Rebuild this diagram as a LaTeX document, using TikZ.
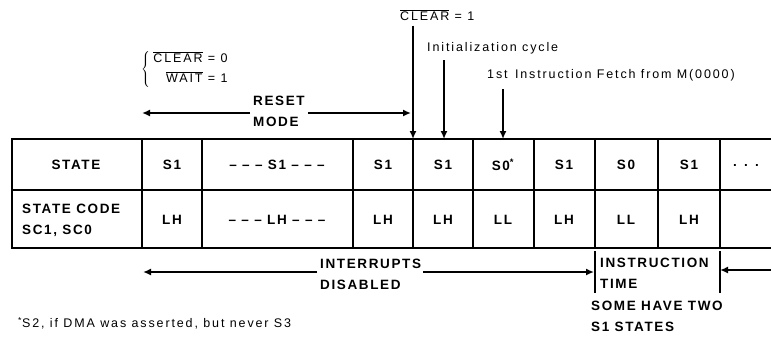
\documentclass[tikz,border=0pt]{standalone}
\usepackage{fontspec}
\setmainfont{Liberation Sans}[LetterSpace=15]
\newfontfamily\capfont{Liberation Sans}[LetterSpace=12]
\usepackage{tikz}
\usetikzlibrary{arrows.meta,positioning}
\tikzset{
  cell/.style={font=\capfont\bfseries\fontsize{13.5}{21}\selectfont, inner sep=0pt},
  note/.style={font=\fontsize{12.5}{14}\selectfont, inner sep=0pt, align=left},
  capnote/.style={font=\capfont\bfseries\fontsize{13.5}{21}\selectfont, inner sep=0pt, align=left},
  grid/.style={line width=1.6pt},
  tickbar/.style={line width=1.2pt},
  arrow/.style={-{Latex[length=8pt,width=7pt]}, line width=1.6pt}
}
\newcommand{\negsig}[1]{$\overline{\mbox{#1}}$}
\newcommand{\dashes}{\textendash\ \textendash\ \textendash}

\begin{document}
\begin{tikzpicture}[x=1pt, y=-1pt]
  \useasboundingbox (0,0) rectangle (771,338);

  % column tops of the table
  \coordinate (top4) at (413,139);
  \coordinate (top5) at (444,139);
  \coordinate (top6) at (503,139);

  % table
  \draw[grid] (771,139) -- (12,139) -- (12,248) -- (771,248);
  \draw[grid] (12,190) -- (771,190);
  \draw[grid] (142,139) -- (142,248);
  \draw[grid] (202,139) -- (202,248);
  \draw[grid] (353,139) -- (353,248);
  \draw[grid] (413,139) -- (413,248);
  \draw[grid] (473,139) -- (473,248);
  \draw[grid] (534,139) -- (534,248);
  \draw[grid] (595,139) -- (595,248);
  \draw[grid] (658,139) -- (658,248);
  \draw[grid] (720,139) -- (720,248);

  \node[cell] (state) at (76,165) {STATE};
  \node[cell] (s1a) at (172,165) {S1};
  \node[cell] (s1b) at (277,165) {\dashes\ S1 \dashes};
  \node[cell] (s1c) at (383,165) {S1};
  \node[cell] (s1d) at (443,165) {S1};
  \node[cell] (s0a) at (503,165) {S0\textsuperscript{*}};
  \node[cell] (s1e) at (564,165) {S1};
  \node[cell] (s0b) at (626,165) {S0};
  \node[cell] (s1f) at (689,165) {S1};
  \node[cell] (more) at (746,165) {. . .};

  \node[cell, anchor=west, align=left] (code) at (22,220) {STATE CODE\\SC1, SC0};
  \node[cell] (lha) at (172,220) {LH};
  \node[cell] (lhb) at (277,220) {\dashes\ LH \dashes};
  \node[cell] (lhc) at (383,220) {LH};
  \node[cell] (lhd) at (443,220) {LH};
  \node[cell] (lla) at (503,220) {LL};
  \node[cell] (lhe) at (564,220) {LH};
  \node[cell] (llb) at (626,220) {LL};
  \node[cell] (lhf) at (689,220) {LH};

  % signals above the table
  \node[note, anchor=west] (clear1) at (400,15) {\negsig{CLEAR} = 1};
  \node[note, anchor=west] (init) at (427,48) {Initialization cycle};
  \node[note, anchor=west] (fetch) at (487,75) {1st\, Instruction Fetch from M(0000)};
  \draw[arrow] (clear1.south -| top4) ++(0,5) -- (top4);
  \draw[arrow] (init.south -| top5) ++(0,6) -- (top5);
  \draw[arrow] (fetch.south -| top6) ++(0,8) -- (top6);

  \node[note, anchor=west] (resetsig) at (141,69)
    {$\left\{\;\mbox{\begin{tabular}{@{}r@{}}\negsig{CLEAR} = 0\\[5pt] \negsig{WAIT} = 1\end{tabular}}\right.$};

  \coordinate (rstleft) at (142,113);
  \coordinate (rstright) at (411,113);
  \node[capnote, anchor=west] (reset) at (253,111) {RESET\\MODE};
  \draw[arrow] (reset.west |- rstleft) ++(-3,0) -- (rstleft);
  \draw[arrow] (reset.east |- rstright) ++(3,0) -- (rstright);

  % below the table
  \coordinate (intleft) at (143,272);
  \coordinate (intright) at (594,272);
  \coordinate (instrleft) at (595,251);
  \coordinate (instrright) at (720,251);
  \coordinate (nextend) at (771,270);
  \node[capnote, anchor=west] (intr) at (320,274) {INTERRUPTS\\DISABLED};
  \draw[arrow] (intr.west |- intleft) ++(-3,0) -- (intleft);
  \draw[arrow] (intr.east |- intright) ++(2,0) -- (intright);
  \draw[tickbar] (instrleft) -- ++(0,42);
  \draw[tickbar] (instrright) -- ++(0,42);
  \node[capnote, anchor=west] (instr) at (600,273) {INSTRUCTION\\TIME};
  \draw[arrow] (nextend) -- (instrright |- nextend);
  \node[capnote, anchor=north west] (two) at (591,301) {SOME HAVE TWO\\S1 STATES};

  \node[note, anchor=west] (foot) at (18,323) {\textsuperscript{*}S2, if DMA was asserted, but never S3};
\end{tikzpicture}
\end{document}
